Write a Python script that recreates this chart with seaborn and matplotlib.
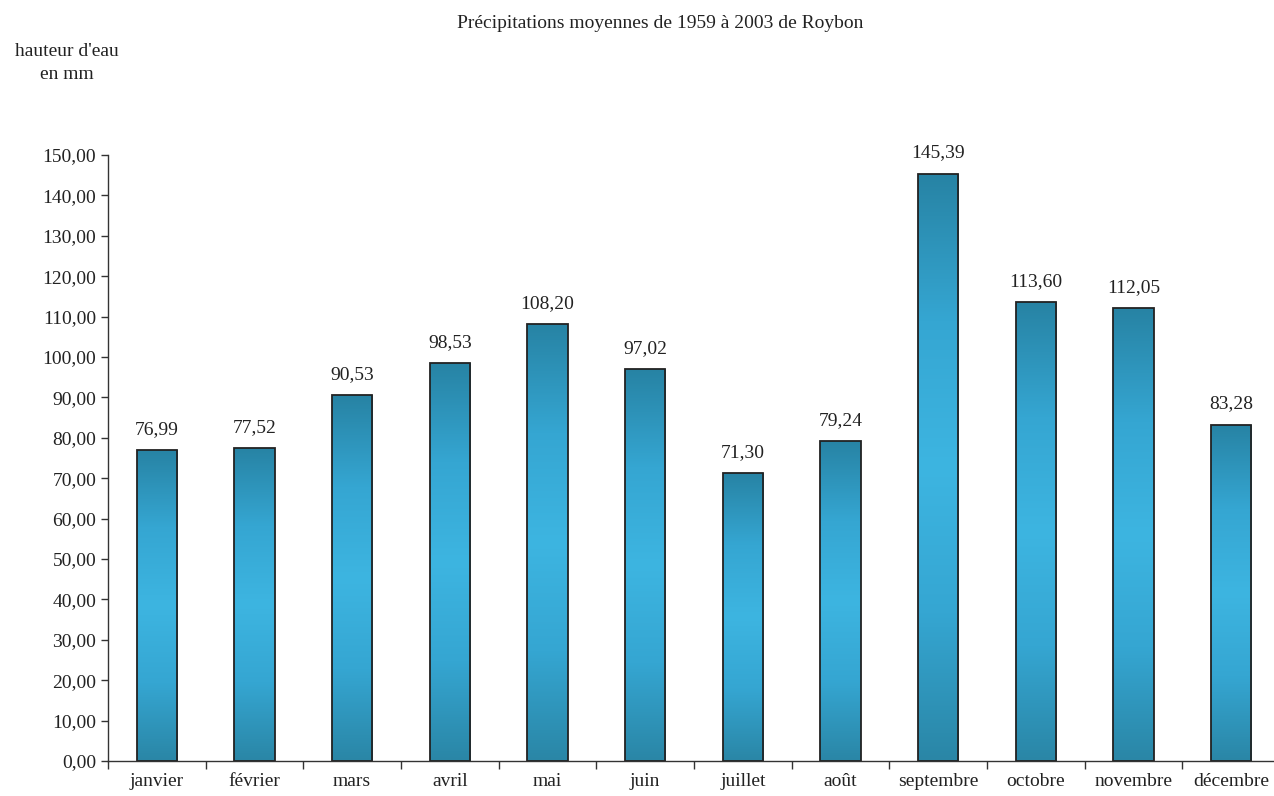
import numpy as np
import pandas as pd
import matplotlib
matplotlib.use("Agg")
import matplotlib.pyplot as plt
import seaborn as sns
from matplotlib.colors import LinearSegmentedColormap
from matplotlib.ticker import FuncFormatter, FixedLocator

months = ["janvier", "février", "mars", "avril", "mai", "juin",
          "juillet", "août", "septembre", "octobre", "novembre", "décembre"]
precip = [76.99, 77.52, 90.53, 98.53, 108.20, 97.02,
          71.30, 79.24, 145.39, 113.60, 112.05, 83.28]
title = "Précipitations moyennes de 1959 à 2003 de Roybon"
ylabel = "hauteur d'eau\nen mm"

df = pd.DataFrame({"mois": months, "mm": precip})

sns.set_theme(style="ticks")
plt.rcParams["font.family"] = ["Liberation Serif", "DejaVu Serif"]

fig = plt.figure(figsize=(12.74, 7.96), dpi=100)
fig.patch.set_facecolor("white")
ax = fig.add_axes([108/1274, 1-761/796, (1274-108)/1274, (761-155)/796])

sns.barplot(data=df, x="mois", y="mm", ax=ax, width=0.41,
            color="#33a3cc", edgecolor="#222222", linewidth=1.3, saturation=1)

cmap = LinearSegmentedColormap.from_list(
    "g", ["#2a86a6", "#35a6d2", "#3db5e1", "#35a6d2", "#2783a4"])
grad = np.linspace(0, 1, 256).reshape(-1, 1)
for p in ax.patches:
    x0, y0 = p.get_x(), p.get_y()
    w, h = p.get_width(), p.get_height()
    im = ax.imshow(grad, cmap=cmap, aspect="auto", origin="lower",
                   extent=(x0, x0 + w, y0, y0 + h), zorder=p.get_zorder() + 0.1)
    im.set_clip_path(p)
    p.set_facecolor("none")
    p.set_zorder(p.get_zorder() + 0.2)

for i, v in enumerate(precip):
    ax.text(i, v + 3.0, f"{v:.2f}".replace(".", ","), ha="center", va="bottom",
            fontsize=14, color="#222222")

ax.set_xlim(-0.5, 11.5 - 6/97.7)
ax.set_ylim(0, 150)
ax.set_yticks(np.arange(0, 151, 10))
ax.yaxis.set_major_formatter(FuncFormatter(lambda v, _: f"{v:.2f}".replace(".", ",")))
ax.xaxis.set_major_locator(FixedLocator(np.arange(-0.5, 12, 1)))
ax.set_xticklabels([])
ax.set_xticks(np.arange(0, 12), labels=months, minor=True)
ax.tick_params(axis="x", which="minor", length=0, pad=9, labelsize=14, colors="#222222")
ax.tick_params(axis="x", which="major", length=6, width=1, color="#333333", direction="out")
ax.tick_params(axis="y", length=5, width=1, color="#333333", labelsize=14, labelcolor="#222222")

ax.set_xlabel("")
ax.set_ylabel("")
sns.despine(ax=ax, top=True, right=True)
for s in ["left", "bottom"]:
    ax.spines[s].set_color("#333333")
    ax.spines[s].set_linewidth(1)

fig.text(660/1274, 1-24/796, title, ha="center", va="center", fontsize=14, color="#222222")
fig.text(67/1274, 1-63/796, ylabel, ha="center", va="center", fontsize=14,
         color="#222222", linespacing=1.4)

fig.savefig("out.png", dpi=100, facecolor="white")
